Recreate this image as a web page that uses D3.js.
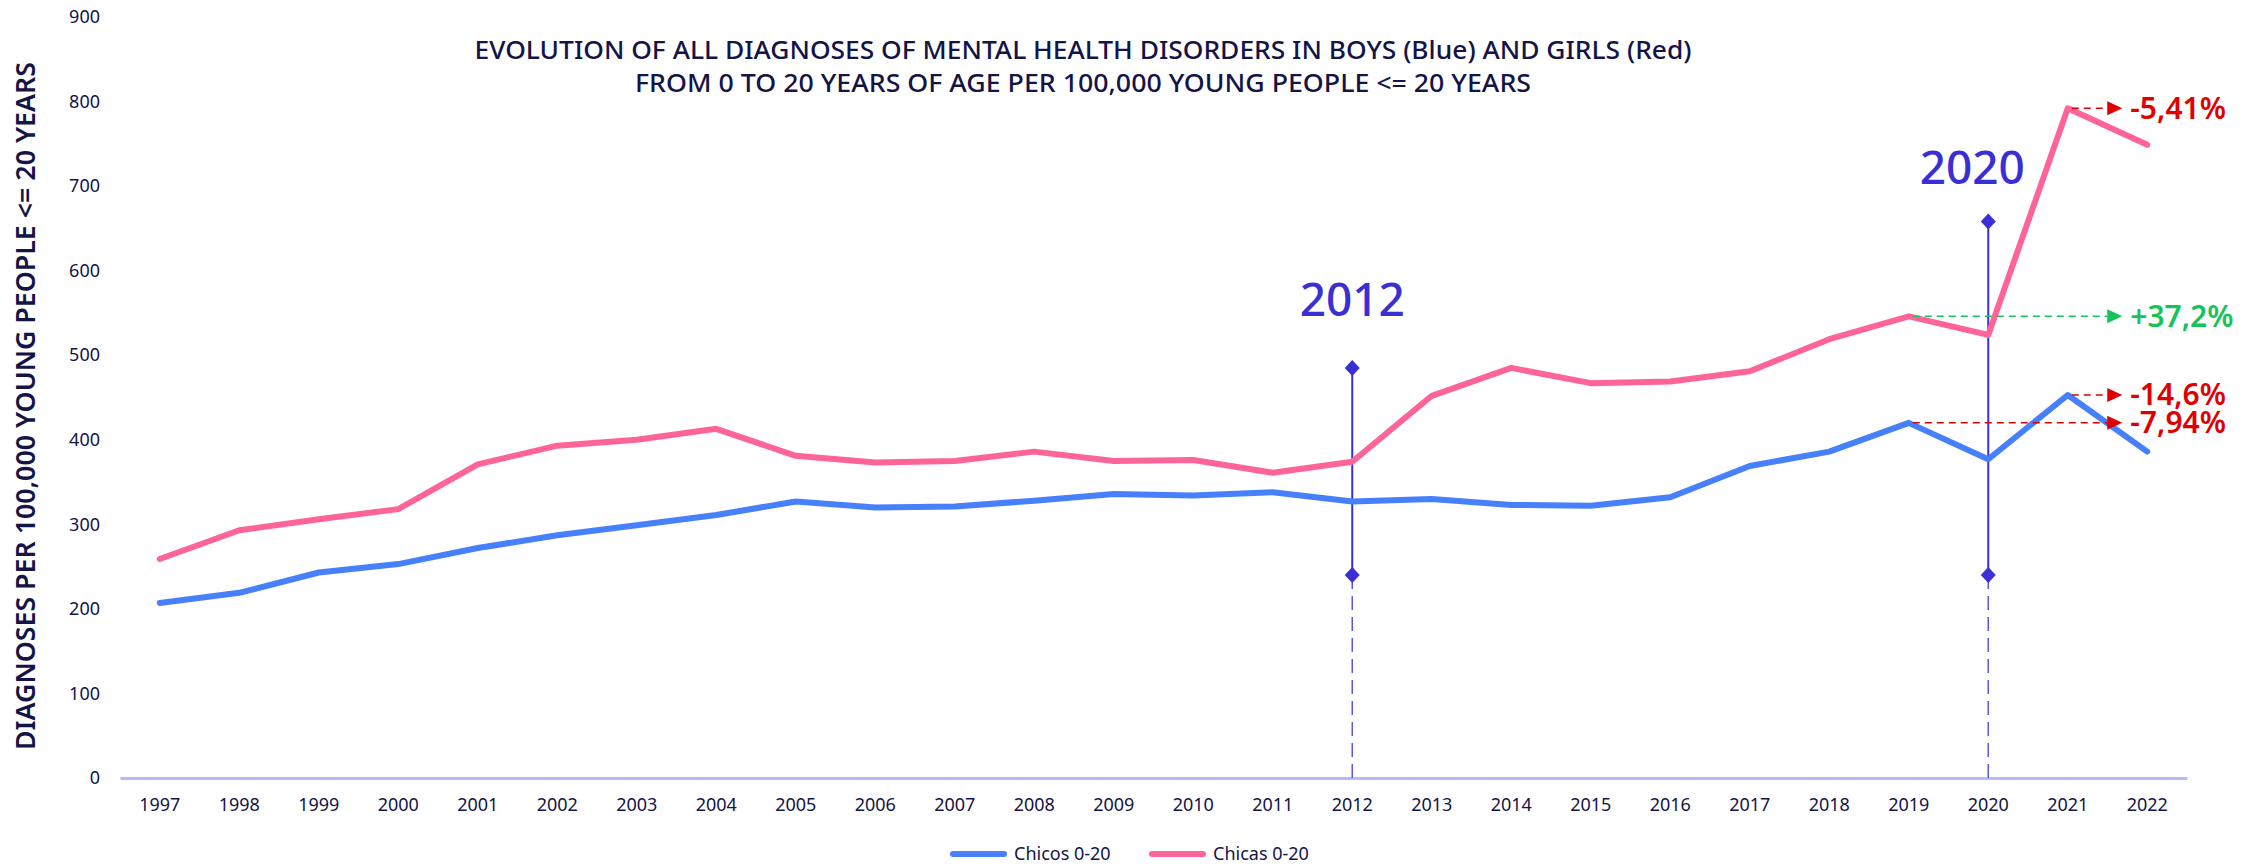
<!DOCTYPE html>
<html>
<head>
<meta charset="utf-8">
<script src="https://cdn.jsdelivr.net/npm/d3@7"></script>
<style>
  body { margin: 0; background: #fff; }
  svg { display: block; font-family: "Noto Sans", sans-serif; }
</style>
</head>
<body>
<svg width="2253" height="867"></svg>
<script>
const years = d3.range(1997, 2023)
const chicos = [207, 219, 243, 253, 272, 287, 299, 311, 327, 320, 321, 328, 336, 334, 338, 327, 330, 323, 322, 332, 369, 386, 420, 377, 453, 386]
const chicas = [259, 293, 306, 318, 371, 393, 400, 413, 381, 373, 375, 386, 375, 376, 361, 374, 452, 485, 467, 469, 481, 519, 546, 524, 792, 749]
const yTicks = [0, 100, 200, 300, 400, 500, 600, 700, 800, 900]

// vertical markers: year, upper and lower diamond, label height (axis units)
const markers = [
  { year: 2012, top: 485, bottom: 240, label: 546 },
  { year: 2020, top: 658, bottom: 240, label: 702 }
]
// change arrows: from (year, value) to the right edge
const changes = [
  { year: 2021, value: 792, text: '-5,41%', color: '#e00000' },
  { year: 2019, value: 546, text: '+37,2%', color: '#14c45a' },
  { year: 2021, value: 453, text: '-14,6%', color: '#e00000' },
  { year: 2019, value: 420, text: '-7,94%', color: '#e00000' }
]

const series = [
  { name: 'Chicos 0-20', values: chicos, color: '#4680fc' },
  { name: 'Chicas 0-20', values: chicas, color: '#ff6498' }
]

const navy = '#141447'
const violet = '#3a2fd4'

const svg = d3.select('svg')

const x = d3.scaleBand().domain(years).range([120, 2187])
const cx = d => x(d) + x.bandwidth() / 2
const y = d3.scaleLinear().domain([0, 900]).range([778, 17])

// y axis (labels only)
const yAxis = svg.append('g')
  .attr('transform', 'translate(120,0)')
  .call(d3.axisLeft(y).tickValues(yTicks).tickSize(0).tickPadding(20))
yAxis.select('.domain').remove()
yAxis.selectAll('text')
  .attr('font-size', 18)
  .attr('font-family', 'Noto Sans')
  .attr('fill', navy)

// x axis
const xAxis = svg.append('g')
  .attr('transform', `translate(0,${y(0)})`)
  .call(d3.axisBottom(x).tickSize(0).tickSizeOuter(0).tickPadding(20))
xAxis.select('.domain')
  .attr('stroke', '#b4bbf8')
  .attr('stroke-width', 3)
xAxis.selectAll('text')
  .attr('font-size', 18)
  .attr('font-family', 'Noto Sans')
  .attr('fill', navy)

// axis title
svg.append('text')
  .attr('transform', `translate(35,${(62 + 750) / 2}) rotate(-90)`)
  .attr('text-anchor', 'middle')
  .attr('font-size', 27)
  .attr('font-weight', 600)
  .attr('fill', navy)
  .attr('textLength', 688)
  .attr('lengthAdjust', 'spacingAndGlyphs')
  .text('DIAGNOSES PER 100,000 YOUNG PEOPLE <= 20 YEARS')

// chart title
const titleLines = [
  'EVOLUTION OF ALL DIAGNOSES OF MENTAL HEALTH DISORDERS IN BOYS (Blue) AND GIRLS (Red)',
  'FROM 0 TO 20 YEARS OF AGE PER 100,000 YOUNG PEOPLE <= 20 YEARS'
]
const titleWidths = [1217, 896]
svg.append('g').selectAll('text')
  .data(titleLines)
  .join('text')
  .attr('x', 1083)
  .attr('y', (d, i) => 59 + i * 33)
  .attr('text-anchor', 'middle')
  .attr('font-size', 26)
  .attr('font-weight', 500)
  .attr('fill', navy)
  .attr('textLength', (d, i) => titleWidths[i])
  .attr('lengthAdjust', 'spacingAndGlyphs')
  .text(d => d)

// markers
const mk = svg.append('g').selectAll('g')
  .data(markers)
  .join('g')
mk.append('line')
  .attr('x1', d => cx(d.year)).attr('x2', d => cx(d.year))
  .attr('y1', d => y(d.bottom)).attr('y2', y(0))
  .attr('stroke', '#5a55ee')
  .attr('stroke-width', 1.5)
  .attr('stroke-dasharray', '14,7')
mk.append('line')
  .attr('x1', d => cx(d.year)).attr('x2', d => cx(d.year))
  .attr('y1', d => y(d.top)).attr('y2', d => y(d.bottom))
  .attr('stroke', violet)
  .attr('stroke-width', 2)
mk.selectAll('path')
  .data(d => [[d.year, d.top], [d.year, d.bottom]])
  .join('path')
  .attr('d', 'M0,-8L7.5,0L0,8L-7.5,0Z')
  .attr('transform', d => `translate(${cx(d[0])},${y(d[1])})`)
  .attr('fill', violet)
mk.append('text')
  .attr('x', d => cx(d.year) - (d.year === 2020 ? 16 : 0))
  .attr('y', d => y(d.label))
  .attr('text-anchor', 'middle')
  .attr('font-size', 46)
  .attr('font-weight', 500)
  .attr('fill', violet)
  .text(d => d.year)

// lines
const line = d3.line()
  .x((d, i) => cx(years[i]))
  .y(d => y(d))
svg.append('g').selectAll('path')
  .data(series)
  .join('path')
  .attr('d', d => line(d.values))
  .attr('fill', 'none')
  .attr('stroke', d => d.color)
  .attr('stroke-width', 6)
  .attr('stroke-linejoin', 'round')
  .attr('stroke-linecap', 'round')

// change arrows
const tip = cx(2022) - 25
const ch = svg.append('g').selectAll('g')
  .data(changes)
  .join('g')
ch.append('line')
  .attr('x1', d => cx(d.year) + 4).attr('x2', tip - 15)
  .attr('y1', d => y(d.value)).attr('y2', d => y(d.value))
  .attr('stroke', d => d.color)
  .attr('stroke-width', 1.5)
  .attr('stroke-dasharray', '7,5')
ch.append('path')
  .attr('d', d => `M${tip},${y(d.value)}l-15,-7v14Z`)
  .attr('fill', d => d.color)
ch.append('text')
  .attr('x', tip + 8)
  .attr('y', d => y(d.value))
  .attr('dy', '0.35em')
  .attr('font-size', 30)
  .attr('font-weight', 600)
  .attr('fill', d => d.color)
  .text(d => d.text)

// legend
const legendX = [950, 1149]
const lg = svg.append('g').selectAll('g')
  .data(series)
  .join('g')
  .attr('transform', (d, i) => `translate(${legendX[i]},854)`)
lg.append('line')
  .attr('x1', 3).attr('x2', 54)
  .attr('stroke', d => d.color)
  .attr('stroke-width', 6)
  .attr('stroke-linecap', 'round')
lg.append('text')
  .attr('x', 64)
  .attr('dy', '0.35em')
  .attr('font-size', 18)
  .attr('fill', navy)
  .text(d => d.name)
</script>
</body>
</html>
